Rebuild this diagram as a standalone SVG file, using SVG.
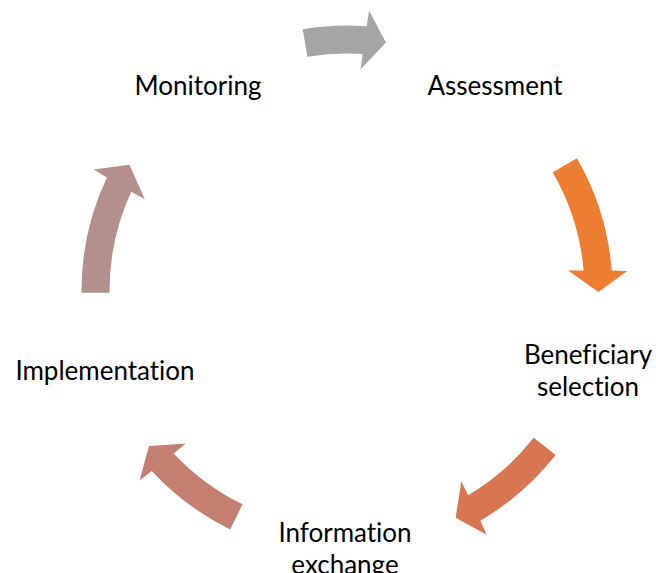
<svg xmlns="http://www.w3.org/2000/svg" width="656" height="573" viewBox="0 0 656 573">
<style>
.lbl{font-family:Lato,"Liberation Sans",sans-serif;font-size:26px;fill:#000;text-anchor:middle;font-variant-ligatures:none}
</style>
<rect width="656" height="573" fill="#fff"/>
<g id="connectors">
<path id="a1" fill="#A5A5A5" d="M302.72,29.22 A265.5,265.5 0 0 1 366.63,26.23 L369.05,10.87 L385.91,42.53 L360.55,69.42 L362.58,54.01 A237.5,237.5 0 0 0 307.39,56.82 Z"/>
<path id="a2" fill="#ED7D31" d="M576.93,158.25 A265.5,265.5 0 0 1 611.71,270.54 L627.28,270.91 L598.5,291.88 L568.05,270.49 L583.60,270.38 A237.5,237.5 0 0 0 552.68,172.25 Z"/>
<path id="a3" fill="#D77650" d="M555.69,455.12 A265.5,265.5 0 0 1 480.23,520.65 L486.65,534.84 L455.67,517.81 L461.34,481.29 L468.17,495.26 A237.5,237.5 0 0 0 533.68,437.81 Z"/>
<path id="a4" fill="#C57F70" d="M230.20,529.43 A265.5,265.5 0 0 1 151.78,470.94 L139.52,480.48 L149.04,446.12 L185.70,443.53 L173.70,453.40 A237.5,237.5 0 0 0 242.51,504.28 Z"/>
<path id="a5" fill="#B4908C" d="M81.51,292.85 A265.5,265.5 0 0 1 106.93,177.62 L93.59,169.58 L129.41,164.87 L144.83,199.29 L131.26,191.68 A237.5,237.5 0 0 0 109.50,292.66 Z"/>
</g>
<g id="assessment"><text class="lbl" x="495" y="95">Assessment</text></g>
<g id="beneficiary"><text class="lbl" x="588" y="364">Beneficiary</text><text class="lbl" x="588" y="396">selection</text></g>
<g id="information"><text class="lbl" x="345" y="542">Information</text><text class="lbl" x="345" y="574">exchange</text></g>
<g id="implementation"><text class="lbl" x="105" y="380">Implementation</text></g>
<g id="monitoring"><text class="lbl" x="198" y="95">Monitoring</text></g>
</svg>
